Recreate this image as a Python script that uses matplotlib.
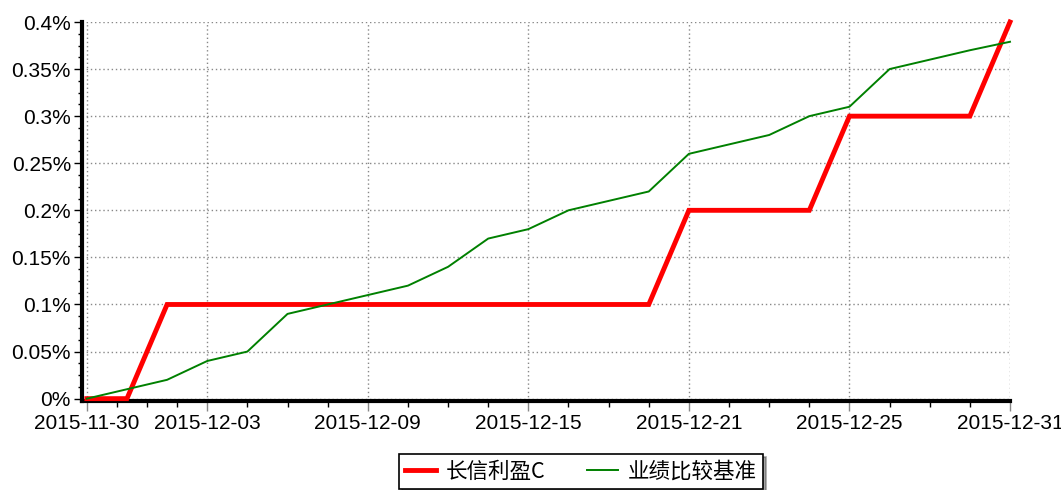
import matplotlib
matplotlib.use("Agg")
import matplotlib.pyplot as plt
from matplotlib.ticker import FixedLocator, FuncFormatter

plt.rcParams["font.family"] = ["Liberation Sans", "Noto Sans CJK SC", "DejaVu Sans"]

# trading days (x axis is by trading-day index)
dates = ["2015-11-30", "2015-12-01", "2015-12-02", "2015-12-03", "2015-12-04",
         "2015-12-07", "2015-12-08", "2015-12-09", "2015-12-10", "2015-12-11",
         "2015-12-14", "2015-12-15", "2015-12-16", "2015-12-17", "2015-12-18",
         "2015-12-21", "2015-12-22", "2015-12-23", "2015-12-24", "2015-12-25",
         "2015-12-28", "2015-12-29", "2015-12-30", "2015-12-31"]
fund = [0.0, 0.0, 0.1, 0.1, 0.1, 0.1, 0.1, 0.1, 0.1, 0.1, 0.1, 0.1, 0.1, 0.1,
        0.1, 0.2, 0.2, 0.2, 0.2, 0.3, 0.3, 0.3, 0.3, 0.4]
bench = [0.0, 0.01, 0.02, 0.04, 0.05, 0.09, 0.10, 0.11, 0.12, 0.14, 0.17, 0.18,
         0.20, 0.21, 0.22, 0.26, 0.27, 0.28, 0.30, 0.31, 0.35, 0.36, 0.37, 0.379]
tick_dates = ["2015-11-30", "2015-12-03", "2015-12-09", "2015-12-15",
              "2015-12-21", "2015-12-25", "2015-12-31"]
labels = ["长信利盈C", "业绩比较基准"]

x = list(range(len(dates)))
major = [dates.index(d) for d in tick_dates]
minor = []
for a, b in zip(major[:-1], major[1:]):
    minor += [a + (b - a) * k / 4 for k in (1, 2, 3)]

fig = plt.figure(figsize=(10.61, 4.90), dpi=100)
ax = fig.add_axes([82 / 1061, 1 - 401 / 490, (1010 - 82) / 1061, (401 - 22) / 490])

ax.plot(x, fund, color="#ff0000", lw=3.5, label=labels[0], clip_on=False,
        solid_joinstyle="miter", zorder=3)
ax.plot(x, bench, color="#008000", lw=1.4, label=labels[1], clip_on=False, zorder=4)

ax.set_xlim(-0.12, 23)
ax.set_ylim(-0.0025, 0.4)
ax.xaxis.set_major_locator(FixedLocator(major))
ax.xaxis.set_minor_locator(FixedLocator(minor))
ax.set_xticklabels(tick_dates)
ax.set_yticks([0, 0.05, 0.1, 0.15, 0.2, 0.25, 0.3, 0.35, 0.4])
ax.yaxis.set_minor_locator(FixedLocator([i * 0.0125 for i in range(33)]))
ax.yaxis.set_major_formatter(FuncFormatter(lambda v, p: f"{v:g}%"))

ax.grid(True, which="major", color="#888888", linestyle=(0, (1, 2)), lw=1.0)
for s in ("top", "right"):
    ax.spines[s].set_visible(False)
for s in ("left", "bottom"):
    ax.spines[s].set_linewidth(3)
    ax.spines[s].set_color("black")

ax.tick_params(axis="x", which="major", length=7, width=1, color="#888888",
               labelsize=15, pad=2)
ax.tick_params(axis="x", which="minor", length=4, width=1, color="black")
ax.tick_params(axis="y", which="major", length=6, width=1, color="black",
               labelsize=15, pad=2)
ax.tick_params(axis="y", which="minor", length=3, width=1, color="black")

leg = fig.legend(loc="lower center", bbox_to_anchor=(581 / 1061, -0.02), ncol=2,
                 frameon=True, fancybox=False, shadow=True,
                 handlelength=1.45, handletextpad=0.45, columnspacing=1.9,
                 borderpad=0.3,
                 prop={"family": ["Noto Sans CJK SC", "DejaVu Sans"], "size": 15.5})
leg.get_frame().set_edgecolor("black")
leg.get_frame().set_linewidth(1.2)

fig.savefig("out.png", dpi=100)
